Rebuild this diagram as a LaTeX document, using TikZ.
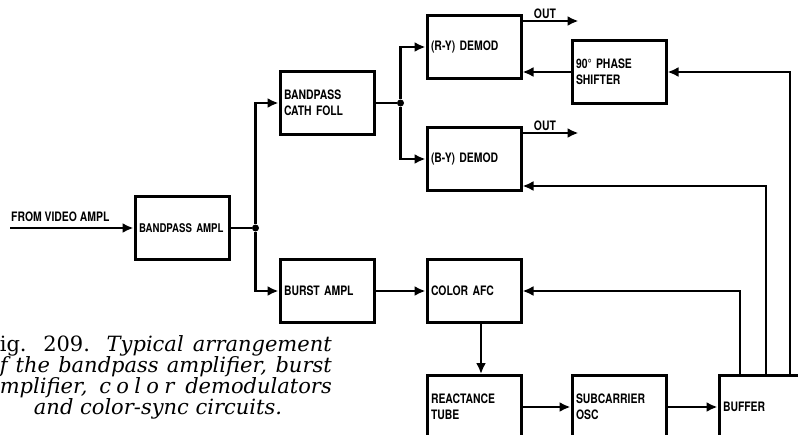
\documentclass[tikz,border=0pt]{standalone}
\usepackage{fontspec}
\usetikzlibrary{positioning,arrows.meta}
\newfontfamily\blkfont{TeX Gyre Heros}[FakeStretch=0.8]
\newfontfamily\captfont{DejaVu Serif}
\newfontfamily\captspaced{DejaVu Serif}[LetterSpace=25]
\tikzset{
  blk/.style={
    draw, line width=3pt,
    minimum width=94pt, minimum height=63pt,
    text width=86pt, inner xsep=4pt, align=left,
    font=\blkfont\bfseries\fontsize{13}{16}\selectfont
  },
  lbl/.style={font=\blkfont\bfseries\fontsize{13}{15}\selectfont, inner sep=1pt},
  dot/.style={circle, fill, inner sep=0pt, minimum size=7pt},
  conn/.style={line width=2.6pt},
  arrow/.style={-{Latex[length=11pt,width=10pt]}, line width=2.6pt},
  capt/.style={inner sep=0pt, font=\captfont\fontsize{21}{21}\selectfont}
}
\begin{document}
\begin{tikzpicture}[x=1pt, y=-1pt, node distance=48pt]
  \path[use as bounding box, clip] (0,0) rectangle (798,434);

  % main chain
  \node[blk] (bpamp) at (182,228) {\fontsize{12}{14}\selectfont BANDPASS AMPL};
  \node[blk, right=48pt of bpamp, yshift=125pt] (cath) {BANDPASS\\CATH FOLL};
  \node[blk, right=48pt of bpamp, yshift=-63pt] (burst) {BURST AMPL};
  \node[blk, right=50pt of cath, yshift=56pt] (ry) {(R-Y) DEMOD};
  \node[blk, right=50pt of cath, yshift=-56pt] (by) {(B-Y) DEMOD};
  \node[blk, right=48pt of ry, yshift=-25pt] (phase) {90° PHASE\\SHIFTER};
  \node[blk, right=50pt of burst] (afc) {COLOR AFC};
  \node[blk, below=50pt of afc] (react) {REACTANCE\\TUBE};
  \node[blk, right=48pt of react] (subc) {SUBCARRIER\\OSC};
  \node[blk, right=50pt of subc] (buf) {BUFFER};

  % input
  \coordinate (vin) at (10,228);
  \node[lbl, above right=5pt and 0pt of vin] (vinlbl) {FROM VIDEO AMPL};
  \draw[arrow] (vin) -- (bpamp);

  % splits
  \node[dot] (j1) at ([xshift=25pt]bpamp.east) {};
  \draw[conn] (bpamp) -- (j1);
  \draw[arrow] (j1) |- (cath);
  \draw[arrow] (j1) |- (burst);
  \node[dot] (j2) at ([xshift=25pt]cath.east) {};
  \draw[conn] (cath) -- (j2);
  \draw[arrow] (j2) |- (ry);
  \draw[arrow] (j2) |- (by);

  % outputs
  \coordinate (ryout) at ([xshift=56pt,yshift=-7pt]ry.north east);
  \draw[arrow] (ry.east |- ryout) -- node[lbl, above, pos=0.4] (rylbl) {OUT} (ryout);
  \coordinate (byout) at ([xshift=56pt,yshift=-7pt]by.north east);
  \draw[arrow] (by.east |- byout) -- node[lbl, above, pos=0.4] (bylbl) {OUT} (byout);

  % reference path
  \draw[arrow] (phase) -- (phase.west -| ry.east);
  \draw[arrow] ([xshift=24pt]buf.north) |- (phase);
  \draw[arrow] (buf.north) |- ([yshift=6pt]by.south east);
  \draw[arrow] ([xshift=-26pt]buf.north) |- (afc);
  \draw[arrow] (burst) -- (afc);
  \draw[arrow] ([xshift=7pt]afc.south) -- ([xshift=7pt]react.north);
  \draw[arrow] (react) -- (subc);
  \draw[arrow] (subc) -- (buf);

  % caption
  \node[capt, anchor=base east] (cap1) at (332,351)
    {\makebox[332pt][s]{ig. 209. \itshape Typical arrangement}};
  \node[capt, anchor=base east] (cap2) at (332,372)
    {\itshape\makebox[332pt][s]{f the bandpass amplifier, burst}};
  \node[capt, anchor=base east] (cap3) at (332,393)
    {\itshape\makebox[332pt][s]{mplifier, {\captspaced\itshape color} demodulators}};
  \node[capt, anchor=base] (cap4) at (158,414)
    {\itshape and color-sync circuits.};
\end{tikzpicture}
\end{document}
